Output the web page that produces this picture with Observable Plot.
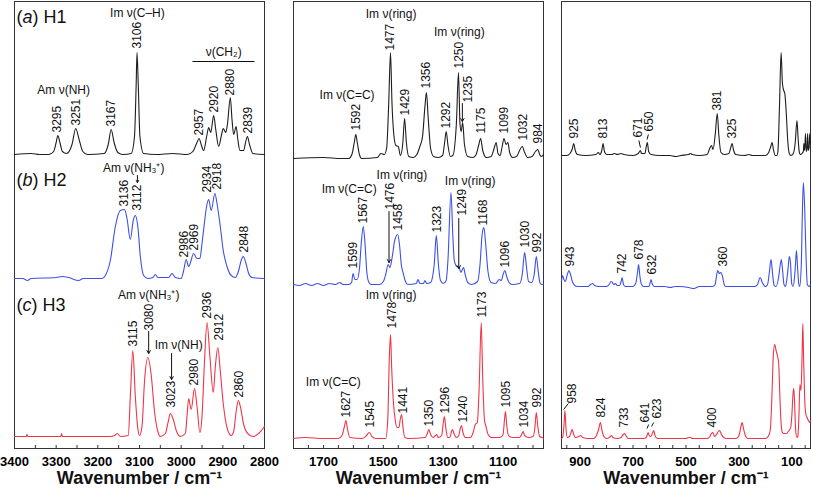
<!DOCTYPE html>
<html><head><meta charset="utf-8">
<script src="https://cdn.jsdelivr.net/npm/d3@7"></script>
<script src="https://cdn.jsdelivr.net/npm/@observablehq/plot@0.6"></script>
<style>
body{margin:0;background:#fff;}
#row{display:flex;width:813px;height:493px;}
#row svg{flex:none;}
text{font-family:"Liberation Sans",Arial,Helvetica,sans-serif;}
g[aria-label="x-axis tick label"] text{font-weight:bold;}
</style></head><body><div id="row"></div>
<script>
// ---------- tick labels ----------
const leftTicks = [3400, 3300, 3200, 3100, 3000, 2900, 2800];
const midTicks = [1700, 1500, 1300, 1100];
const rightTicks = [900, 700, 500, 300, 100];
const leftMinor = [3350, 3300, 3250, 3200, 3150, 3100, 3050, 3000, 2950, 2900, 2850];
const midMinor = [1750, 1700, 1650, 1600, 1550, 1500, 1450, 1400, 1350, 1300, 1250, 1200, 1150, 1100, 1050, 1000];
const rightMinor = [950, 900, 850, 800, 750, 700, 650, 600, 550, 500, 450, 400, 350, 300, 250, 200, 150, 100, 50];

const samples = ["(a) H1", "(b) H2", "(c) H3"];
const sampleLevels = [431, 268, 143];

// ---------- spectra: [wavenumber, intensity above own baseline] ----------
const leftH1 = [[3400,0],[3360,1],[3340,0],[3318,0],[3306,3],[3300,12],[3296,19],[3291,12],[3285,3],[3275,1],[3262,10],[3253,26],[3245,15],[3236,3],[3225,0],[3185,1],[3175,10],[3168,25],[3161,12],[3152,2],[3140,0],[3120,1],[3112,18],[3108,70],[3106,102],[3103,70],[3099,18],[3090,1],[3060,0],[3020,1],[2985,0],[2972,3],[2962,12],[2957,16],[2952,10],[2946,4],[2938,20],[2934,27],[2929,22],[2922,39],[2917,25],[2910,8],[2903,20],[2899,26],[2893,22],[2889,30],[2882,57],[2878,35],[2874,20],[2868,28],[2864,15],[2859,4],[2850,4],[2846,11],[2841,18],[2836,10],[2828,1],[2800,0]];
const leftH2 = [[3400,0],[3380,0],[3369,-2],[3360,0],[3300,1],[3285,2],[3270,1],[3246,-2],[3235,0],[3190,0],[3182,3],[3170,18],[3158,52],[3146,68],[3136,69],[3130,60],[3122,39],[3115,58],[3110,63],[3104,52],[3098,22],[3090,3],[3080,0],[3068,1],[3062,4],[3056,1],[3030,1],[3022,5],[3014,1],[3000,0],[2994,8],[2988,19],[2982,12],[2970,25],[2962,20],[2955,20],[2950,35],[2944,56],[2939,72],[2934,79],[2928,68],[2919,85],[2914,75],[2907,55],[2899,28],[2890,12],[2880,3],[2870,1],[2862,8],[2856,18],[2851,22],[2845,16],[2838,5],[2830,1],[2800,0]];
const leftH3 = [[3400,0],[3372,0],[3370,2],[3368,0],[3289,0],[3287,3],[3285,0],[3170,0],[3160,1],[3153,3],[3146,0],[3127,1],[3122,40],[3116,86],[3110,40],[3104,8],[3100,1],[3094,10],[3088,55],[3080,79],[3072,62],[3064,25],[3056,5],[3050,0],[3038,3],[3031,15],[3026,23],[3019,17],[3011,5],[3002,0],[2990,3],[2986,20],[2982,38],[2976,27],[2968,48],[2962,30],[2955,4],[2950,20],[2944,75],[2938,114],[2931,80],[2923,44],[2918,70],[2912,89],[2906,65],[2899,33],[2890,9],[2880,1],[2874,5],[2868,25],[2863,36],[2858,30],[2850,12],[2838,2],[2826,0],[2814,3],[2800,10]];

const midH1 = [[1800,0],[1700,1],[1640,0],[1615,0],[1604,5],[1597,16],[1592,24],[1587,16],[1580,4],[1572,0],[1520,1],[1508,5],[1497,4],[1489,10],[1482,55],[1476,106],[1471,55],[1465,24],[1458,13],[1450,12],[1443,3],[1435,15],[1429,40],[1423,16],[1415,2],[1400,1],[1388,4],[1378,12],[1369,22],[1361,52],[1356,66],[1350,40],[1342,10],[1332,2],[1317,1],[1302,3],[1296,14],[1290,27],[1284,13],[1276,2],[1268,3],[1256,35],[1249,86],[1244,35],[1240,27],[1235,36],[1229,14],[1218,2],[1200,1],[1190,4],[1181,14],[1175,20],[1168,8],[1156,1],[1140,2],[1130,10],[1123,16],[1117,5],[1110,3],[1103,12],[1097,20],[1090,14],[1084,16],[1078,6],[1068,1],[1055,2],[1045,8],[1036,12],[1028,6],[1018,1],[1003,2],[992,7],[984,9],[978,4],[972,2],[965,4]];
const midH2 = [[1800,0],[1780,-1],[1760,1],[1740,-1],[1720,1],[1700,-1],[1680,1],[1660,0],[1645,2],[1635,0],[1615,0],[1606,2],[1601,11],[1595,5],[1588,5],[1580,15],[1574,40],[1567,58],[1561,40],[1555,12],[1548,2],[1540,0],[1512,0],[1500,3],[1492,10],[1484,20],[1478,17],[1470,28],[1462,44],[1452,50],[1446,40],[1440,20],[1434,12],[1426,3],[1418,0],[1390,1],[1384,5],[1378,1],[1366,1],[1361,4],[1355,1],[1342,2],[1336,7],[1330,20],[1323,49],[1316,20],[1309,4],[1300,1],[1290,4],[1284,25],[1274,92],[1268,50],[1263,24],[1255,18],[1247,17],[1241,12],[1232,17],[1226,9],[1218,2],[1205,0],[1185,3],[1177,20],[1170,50],[1164,57],[1158,40],[1150,12],[1140,2],[1125,1],[1113,5],[1106,4],[1100,10],[1094,14],[1088,8],[1080,2],[1070,0],[1045,1],[1036,10],[1028,32],[1022,18],[1015,3],[1005,2],[996,10],[989,28],[983,14],[977,2],[970,0],[965,0]];
const midH3 = [[1800,0],[1760,1],[1700,0],[1650,0],[1638,3],[1630,12],[1625,18],[1620,10],[1612,1],[1570,0],[1556,3],[1547,6],[1538,2],[1525,0],[1492,0],[1485,20],[1480,80],[1476,104],[1472,70],[1466,35],[1460,18],[1454,11],[1448,11],[1443,20],[1439,24],[1434,10],[1428,1],[1415,0],[1360,1],[1353,5],[1348,9],[1342,4],[1334,1],[1326,3],[1322,4],[1316,1],[1305,3],[1300,15],[1296,22],[1291,10],[1285,1],[1278,1],[1273,6],[1269,9],[1264,5],[1256,1],[1248,3],[1243,10],[1239,13],[1234,6],[1226,1],[1210,1],[1200,6],[1193,14],[1186,16],[1180,50],[1173,116],[1168,60],[1162,18],[1157,12],[1150,4],[1140,1],[1110,1],[1100,4],[1095,20],[1092,27],[1088,14],[1082,3],[1070,1],[1045,1],[1038,4],[1033,7],[1028,3],[1015,1],[1000,2],[994,10],[989,26],[984,12],[978,2],[970,1],[965,0]];

const rightH1 = [[970,0],[950,0],[938,2],[930,6],[924,12],[918,5],[910,1],[880,0],[840,1],[831,3],[825,1],[818,5],[813,12],[808,4],[800,1],[780,1],[770,2],[760,1],[745,2],[735,1],[700,0],[680,2],[672,5],[668,2],[655,2],[650,9],[646,13],[641,4],[632,1],[600,0],[560,0],[540,-1],[520,0],[490,1],[483,2],[476,1],[450,0],[420,1],[412,6],[404,10],[398,6],[390,20],[382,42],[376,20],[368,3],[355,1],[338,2],[331,8],[326,12],[320,5],[312,1],[280,0],[262,1],[250,0],[200,0],[188,3],[180,9],[175,13],[170,6],[163,0],[157,0],[153,4],[147,50],[141,103],[136,72],[131,65],[127,62],[121,40],[116,15],[110,2],[104,0],[95,2],[88,12],[81,35],[77,18],[72,3],[68,1],[62,2],[57,4],[55,12],[52,5],[49,22],[46,4],[43,6],[41,22],[38,5],[35,8],[33,22],[30,12]];
const rightH2 = [[970,6],[966,11],[961,7],[956,5],[948,12],[942,16],[936,12],[929,5],[920,1],[910,0],[870,0],[860,2],[853,3],[845,1],[830,0],[800,0],[790,2],[783,5],[778,4],[772,2],[766,3],[760,1],[750,1],[745,5],[741,9],[737,3],[730,0],[700,0],[690,3],[683,14],[679,22],[674,10],[668,2],[660,0],[640,0],[636,3],[632,7],[628,3],[620,0],[580,0],[560,-1],[540,0],[520,0],[490,-1],[470,-2],[450,0],[400,0],[390,2],[385,10],[380,16],[374,13],[368,14],[362,10],[356,2],[350,0],[300,0],[240,0],[230,2],[220,9],[212,4],[200,0],[192,2],[185,15],[179,27],[173,12],[167,1],[160,0],[150,10],[145,20],[140,27],[135,15],[130,2],[124,0],[118,10],[114,20],[110,30],[106,25],[101,3],[96,0],[90,10],[86,25],[83,36],[79,20],[74,2],[71,0],[65,20],[61,70],[57,104],[52,79],[48,40],[42,2],[35,0],[30,2]];
const rightH3 = [[970,0],[966,1],[961,12],[957,28],[953,10],[948,1],[940,2],[934,6],[930,9],[925,5],[918,1],[905,2],[898,3],[890,1],[870,0],[850,0],[840,2],[830,9],[823,16],[817,8],[810,2],[800,0],[790,1],[781,3],[776,1],[760,0],[745,1],[737,4],[732,5],[727,3],[718,0],[660,0],[650,1],[643,6],[639,3],[633,2],[627,5],[622,8],[617,3],[608,0],[500,0],[490,1],[483,1],[476,0],[420,0],[410,2],[404,5],[399,6],[392,2],[385,4],[378,7],[373,8],[366,4],[358,1],[345,0],[310,0],[300,3],[294,10],[288,16],[283,10],[276,3],[268,0],[200,0],[190,2],[182,8],[176,40],[170,85],[165,94],[160,88],[154,82],[150,75],[146,45],[141,15],[136,6],[130,5],[120,5],[114,7],[108,9],[104,12],[100,25],[96,45],[93,50],[90,35],[86,8],[81,1],[78,2],[74,20],[70,54],[66,48],[62,80],[59,115],[56,80],[52,40],[48,25],[43,21],[38,18],[33,16],[30,18]];

// ---------- peak labels: [text, wavenumber, level of text start] ----------
const leftLabels = [["3295",3297,316],["3251",3253,323],["3167",3168,322],["3106",3106,400],["2957",2958,313],["2920",2922,336],["2880",2882,353],["2839",2840,315],
  ["3136",3138,242],["3112",3105,238],["2986",2992,191],["2969",2970,198],["2934",2937,256],["2918",2913,259],["2848",2850,196],
  ["3115",3116,102],["3080",3078,118],["3023",3023,41],["2980",2968,63],["2936",2937,130],["2912",2910,108],["2860",2862,51]];
const midLabels = [["1592",1592,318],["1477",1476,398],["1429",1428,333],["1356",1356,360],["1292",1289,320],["1250",1248,380],["1235",1218,346],["1175",1174,315],["1099",1096,315],["1032",1033,308],["984",984,305],
  ["1599",1601,180],["1567",1567,225],["1476",1478,239],["1458",1452,218],["1323",1321,216],["1249",1238,233],["1168",1167,223],["1096",1094,181],["1030",1027,201],["992",987,196],
  ["1478",1472,120],["1173",1171,131],["1627",1625,31],["1545",1545,21],["1441",1435,35],["1350",1348,22],["1296",1295,35],["1240",1235,26],["1095",1091,41],["1034",1030,21],["992",987,41]];
const rightLabels = [["925",921,310],["813",813,310],["671",679,311],["650",638,317],["381",381,338],["325",325,310],
  ["943",936,182],["742",742,175],["678",678,189],["632",627,174],["360",359,182],
  ["958",928,45],["824",822,31],["733",732,21],["641",653,26],["623",608,30],["400",400,21]];

// ---------- assignments: [text, wavenumber, level] ----------
const leftNotes = [["Am ν(NH)",3282,358],["Im ν(C–H)",3105,435],["ν(CH₂)",2898,396],["Am ν(NH₃⁺)",3114,280],["Am ν(NH₃⁺)",3078,153],["Im ν(NH)",3006,103]];
const midNotes = [["Im ν(ring)",1474,434],["Im ν(ring)",1246,416],["Im ν(C=C)",1621,353],["Im ν(C=C)",1614,259],["Im ν(ring)",1438,273],["Im ν(ring)",1210,267],["Im ν(ring)",1474,153],["Im ν(C=C)",1667,66]];
const rightNotes = [];

// ---------- arrows and leader lines: [wn1, level1, wn2, level2] ----------
const leftArrows = [[3105,273,3105,266],[3078,117,3078,95],[3023,95,3023,69]];
const leftLines = [[2973,387,2824,387]];
const midArrows = [[1236,345,1236,327],[1481,237,1481,186],[1248,230,1248,180]];
const midLines = [];
const rightArrows = [];
const rightLines = [[678,308,672,301],[642,314,647,309],[962,39,944,45],[647,20,641,24],[630,22,622,26]];

// ---------- layout ----------
const colors = ["#1e1e1e", "#3d50e3", "#ef3548"];
function panel(p) {
  const marks = [Plot.frame({stroke: "#333", strokeWidth: 1})];
  p.traces.forEach((tr, i) => marks.push(Plot.line(tr, {x: d => d[0], y: d => d[1] + p.offsets[i], stroke: colors[i], strokeWidth: 1.1, curve: "monotone-x"})));
  marks.push(Plot.ruleX(p.minor, {x: d => d, y1: 0, y2: 3, stroke: "#333"}));
  marks.push(Plot.text(p.labels, {x: d => d[1], y: d => d[2], text: d => d[0], rotate: -90, textAnchor: "start", fontSize: 12, fill: "#111"}));
  marks.push(Plot.text(p.notes, {x: d => d[1], y: d => d[2], text: d => d[0], fontSize: 12, fill: "#111"}));
  marks.push(Plot.arrow(p.arrows, {x1: d => d[0], y1: d => d[1], x2: d => d[2], y2: d => d[3], headLength: 5, strokeWidth: 1, stroke: "#111"}));
  marks.push(Plot.link(p.lines, {x1: d => d[0], y1: d => d[1], x2: d => d[2], y2: d => d[3], strokeWidth: 1, stroke: "#111"}));
  if (p.samples) marks.push(Plot.text(samples, {x: p.domain[0] - 5, y: (d, i) => sampleLevels[i], text: d => d, textAnchor: "start", fontSize: 18, fill: "#111"}));
  marks.push(Plot.axisX({ticks: p.ticks, tickSize: 0, tickPadding: 8, fontSize: 13, fontWeight: "bold", label: null, tickFormat: d => String(d)}));
  marks.push(Plot.text(["Wavenumber / cm⁻¹"], {frameAnchor: "bottom", dy: 35, text: d => d, fontSize: 18, fontWeight: "bold", fill: "#111"}));
  const svg = Plot.plot({
    width: p.width, height: 493, marginLeft: p.ml, marginRight: p.mr, marginTop: 1, marginBottom: 45,
    x: {domain: p.domain}, y: {domain: [0, 447], axis: null},
    style: {background: "transparent", overflow: "visible"},
    marks
  });
  svg.querySelectorAll("text").forEach(t => {
    const m = t.textContent.match(/^\(([abc])\) (H\d)$/);
    if (m) {
      t.textContent = "(";
      const it = document.createElementNS("http://www.w3.org/2000/svg", "tspan");
      it.setAttribute("font-style", "italic"); it.textContent = m[1];
      t.appendChild(it);
      t.appendChild(document.createTextNode(") " + m[2]));
    }
  });
  return svg;
}
const row = document.getElementById("row");
row.appendChild(panel({width: 268, ml: 14, mr: 4, domain: [3400, 2800], traces: [leftH1, leftH2, leftH3], offsets: [294, 170, 12], ticks: leftTicks, minor: leftMinor, labels: leftLabels, notes: leftNotes, arrows: leftArrows, lines: leftLines, samples: true}));
row.appendChild(panel({width: 282, ml: 25, mr: 7, domain: [1800, 965], traces: [midH1, midH2, midH3], offsets: [290, 164, 10], ticks: midTicks, minor: midMinor, labels: midLabels, notes: midNotes, arrows: midArrows, lines: midLines}));
row.appendChild(panel({width: 263, ml: 11, mr: 3, domain: [970, 30], traces: [rightH1, rightH2, rightH3], offsets: [293, 162, 10], ticks: rightTicks, minor: rightMinor, labels: rightLabels, notes: rightNotes, arrows: rightArrows, lines: rightLines}));
</script></body></html>
